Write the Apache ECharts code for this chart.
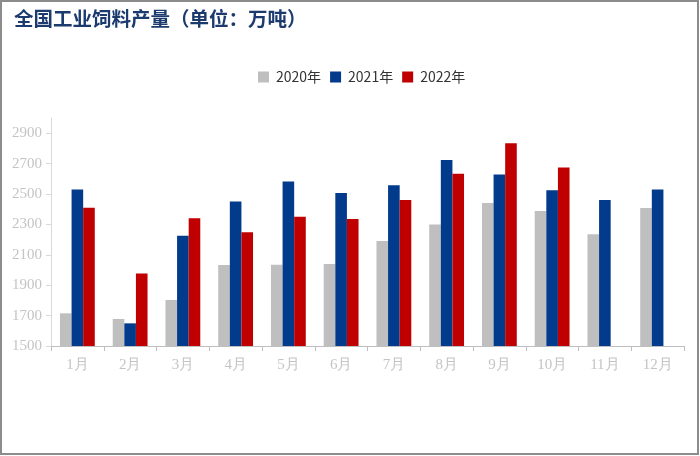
<!DOCTYPE html>
<html><head><meta charset="utf-8">
<script src="https://cdn.jsdelivr.net/npm/echarts@6/dist/echarts.min.js"></script>
<style>html,body{margin:0;padding:0;background:#fff}#c{width:700px;height:456px}</style>
</head><body><div id="c"></div>
<script>
const months = ['1月','2月','3月','4月','5月','6月','7月','8月','9月','10月','11月','12月'];
const y2020 = [1715,1678,1803,2033,2035,2040,2190,2300,2440,2388,2236,2408];
const y2021 = [2530,1649,2226,2450,2582,2507,2558,2724,2628,2525,2461,2529];
const y2022 = [2410,1977,2340,2248,2351,2336,2461,2634,2834,2674,null,null];
const yTicks = [1500,1700,1900,2100,2300,2500,2700,2900];

const chart = echarts.init(document.getElementById('c'), null, {renderer:'canvas'});
const serif = '"Liberation Serif","DejaVu Serif",serif';
chart.setOption({
  animation:false,
  title:{text:'全国工业饲料产量（单位：万吨）',left:14,top:9,padding:0,
    textStyle:{fontFamily:'"Noto Sans CJK SC"',fontWeight:'bold',fontSize:19.5,color:'#1B3A6E'}},
  legend:{top:68,left:256,itemWidth:11,itemHeight:11,itemGap:9,icon:'rect',padding:[2,2,2,2],
    textStyle:{fontSize:14,color:'#333',fontFamily:'"Noto Sans CJK SC"',padding:[0,0,0,2]}},
  grid:{left:51,right:16,top:118,bottom:110},
  xAxis:{type:'category',data:months,
    axisLine:{lineStyle:{color:'#BFBFBF',width:1}},
    axisTick:{show:true,length:5,lineStyle:{color:'#BFBFBF'}},
    axisLabel:{color:'#C4C4C4',fontFamily:serif,fontSize:15,margin:12}},
  yAxis:{type:'value',min:1500,max:3000,
    axisLine:{show:true,lineStyle:{color:'#D9D9D9'}},
    axisTick:{show:true,length:5,lineStyle:{color:'#D9D9D9'},customValues:yTicks},
    axisLabel:{color:'#C4C4C4',fontFamily:serif,fontSize:15,margin:9,customValues:yTicks,
      formatter:function(v){return String(v);}},
    splitLine:{show:false}},
  series:[
    {name:'2020年',type:'bar',data:y2020,barGap:'0%',barCategoryGap:'34%',itemStyle:{color:'#BFBFBF'}},
    {name:'2021年',type:'bar',data:y2021,barGap:'0%',barCategoryGap:'34%',itemStyle:{color:'#023A8C'}},
    {name:'2022年',type:'bar',data:y2022,barGap:'0%',barCategoryGap:'34%',itemStyle:{color:'#C00000'}}
  ],
  graphic:[{type:'rect',shape:{x:1,y:1,width:697,height:453},
    style:{fill:null,stroke:'#8C8C8C',lineWidth:2},silent:true}]
});
</script></body></html>
